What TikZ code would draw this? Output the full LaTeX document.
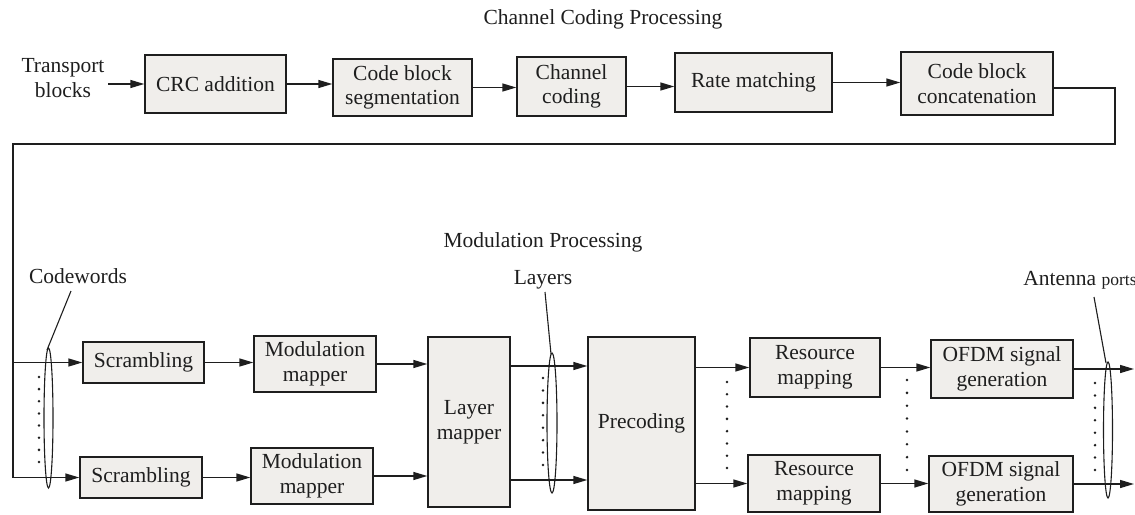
\documentclass[tikz,border=0pt]{standalone}
\usepackage{fontspec}
\setmainfont{Liberation Serif}
\usetikzlibrary{arrows.meta}
\definecolor{boxfill}{RGB}{240,238,235}
\definecolor{ink}{RGB}{30,30,30}
\begin{document}
\begin{tikzpicture}[x=1pt,y=-1pt,
  every node/.style={font=\fontsize{21.5}{24.5}\selectfont, text=ink},
  blk/.style={draw=ink, fill=boxfill, line width=1.4pt, inner sep=0pt, align=center},
  lbl/.style={inner sep=0pt, align=center},
  arr/.style={draw=ink, line width=1.4pt, -{Triangle[length=14pt,width=8pt]}},
  ln/.style={draw=ink, line width=1.4pt},
  thin/.style={draw=ink, line width=1.1pt}]
\useasboundingbox (0,0) rectangle (1135,514);
% titles
\node[lbl] (t1) at (603,19) {Channel Coding Processing};
\node[lbl] (t2) at (543,242) {Modulation Processing};
% top row
\node[lbl] (tb) at (63,78) {Transport\\blocks};
\node[blk, minimum width=141, minimum height=58] (crc) at (215.5,84) {CRC addition};
\node[blk, minimum width=139, minimum height=57] (cbs) at (402.5,87.5) {Code block\\segmentation};
\node[blk, minimum width=109, minimum height=59] (cc) at (571.5,86.5) {Channel\\coding};
\node[blk, minimum width=157, minimum height=59] (rm) at (753.5,82.5) {Rate matching};
\node[blk, minimum width=152, minimum height=63] (cbc) at (977,83.5) {Code block\\concatenation};
\coordinate (tbs) at (108,84);
\draw[arr] (tbs) -- (crc.west);
\draw[arr] (crc.east) -- (crc.east -| cbs.west);
\draw[arr] (cbs.east) -- (cbs.east -| cc.west);
\draw[arr] (cc.east) -- (cc.east -| rm.west);
\draw[arr] (rm.east) -- (rm.east -| cbc.west);
% feedback path
\coordinate (f0) at (1053,88);
\coordinate (f1) at (1115,88);
\coordinate (f2) at (1115,144);
\coordinate (f3) at (13,144);
\coordinate (j1) at (13,362.5);
\coordinate (j2) at (13,477.5);
% bottom nodes
\node[blk, minimum width=121, minimum height=41] (scr1) at (143.5,362.5) {Scrambling};
\node[blk, minimum width=122, minimum height=41] (scr2) at (141,477.5) {Scrambling};
\node[blk, minimum width=122, minimum height=56] (mm1) at (315,364) {Modulation\\mapper};
\node[blk, minimum width=122, minimum height=56] (mm2) at (312,476) {Modulation\\mapper};
\node[blk, minimum width=82, minimum height=170] (lm) at (469,422) {Layer\\mapper};
\node[blk, minimum width=107, minimum height=173] (pc) at (641.5,423.5) {Precoding};
\node[blk, minimum width=130, minimum height=59] (rs1) at (815,367.5) {Resource\\mapping};
\node[blk, minimum width=132, minimum height=57] (rs2) at (814,483.5) {Resource\\mapping};
\node[blk, minimum width=142, minimum height=58] (of1) at (1002,369) {OFDM signal\\generation};
\node[blk, minimum width=144, minimum height=56] (of2) at (1001,484) {OFDM signal\\generation};
\draw[ln] (cbc.east |- f0) -- (f1) -- (f2) -- (f3) -- (j2);
\draw[arr] (j1) -- (scr1.west);
\draw[arr] (j2) -- (scr2.west);
\draw[arr] (scr1.east) -- (scr1.east -| mm1.west);
\draw[arr] (scr2.east) -- (scr2.east -| mm2.west);
\draw[arr] (mm1.east) -- (mm1.east -| lm.west);
\draw[arr] (mm2.east) -- (mm2.east -| lm.west);
\coordinate (l1) at (510,366);
\coordinate (l2) at (510,480);
\draw[arr] (l1) -- (l1 -| pc.west);
\draw[arr] (l2) -- (l2 -| pc.west);
\draw[arr] (pc.east |- rs1.west) -- (rs1.west);
\draw[arr] (pc.east |- rs2.west) -- (rs2.west);
\draw[arr] (rs1.east) -- (rs1.east -| of1.west);
\draw[arr] (rs2.east) -- (rs2.east -| of2.west);
\coordinate (o1) at (1134,369);
\coordinate (o2) at (1134,484);
\draw[arr] (of1.east) -- (o1);
\draw[arr] (of2.east) -- (o2);
% labels with leaders
\node[lbl] (cw) at (78,276) {Codewords};
\node[lbl] (ly) at (543,280) {Layers};
\node[lbl] (ap) at (1080,280) {Antenna {\fontsize{17.5}{20}\selectfont ports}};
\coordinate (cwa) at (71,291);
\coordinate (cwb) at (47,350);
\coordinate (lya) at (545,292);
\coordinate (lyb) at (551,354);
\coordinate (apa) at (1094,297);
\coordinate (apb) at (1106,363);
\draw[thin] (cwa) -- (cwb);
\draw[thin] (lya) -- (lyb);
\draw[thin] (apa) -- (apb);
\draw[thin] (48.5,418) ellipse [x radius=4.5pt, y radius=70pt];
\draw[thin] (552,423) ellipse [x radius=5pt, y radius=70pt];
\draw[thin] (1108,430) ellipse [x radius=4.5pt, y radius=68pt];
% dots
\foreach \xx/\ya/\yb in {39/377/462, 543/378/465, 727/382/468, 907/380/470, 1095/383/470}{
  \foreach \i in {0,...,7}{
    \fill[ink] (\xx,{\ya+\i*(\yb-\ya)/7}) circle (1.4pt);
  }
}
\end{tikzpicture}
\end{document}
